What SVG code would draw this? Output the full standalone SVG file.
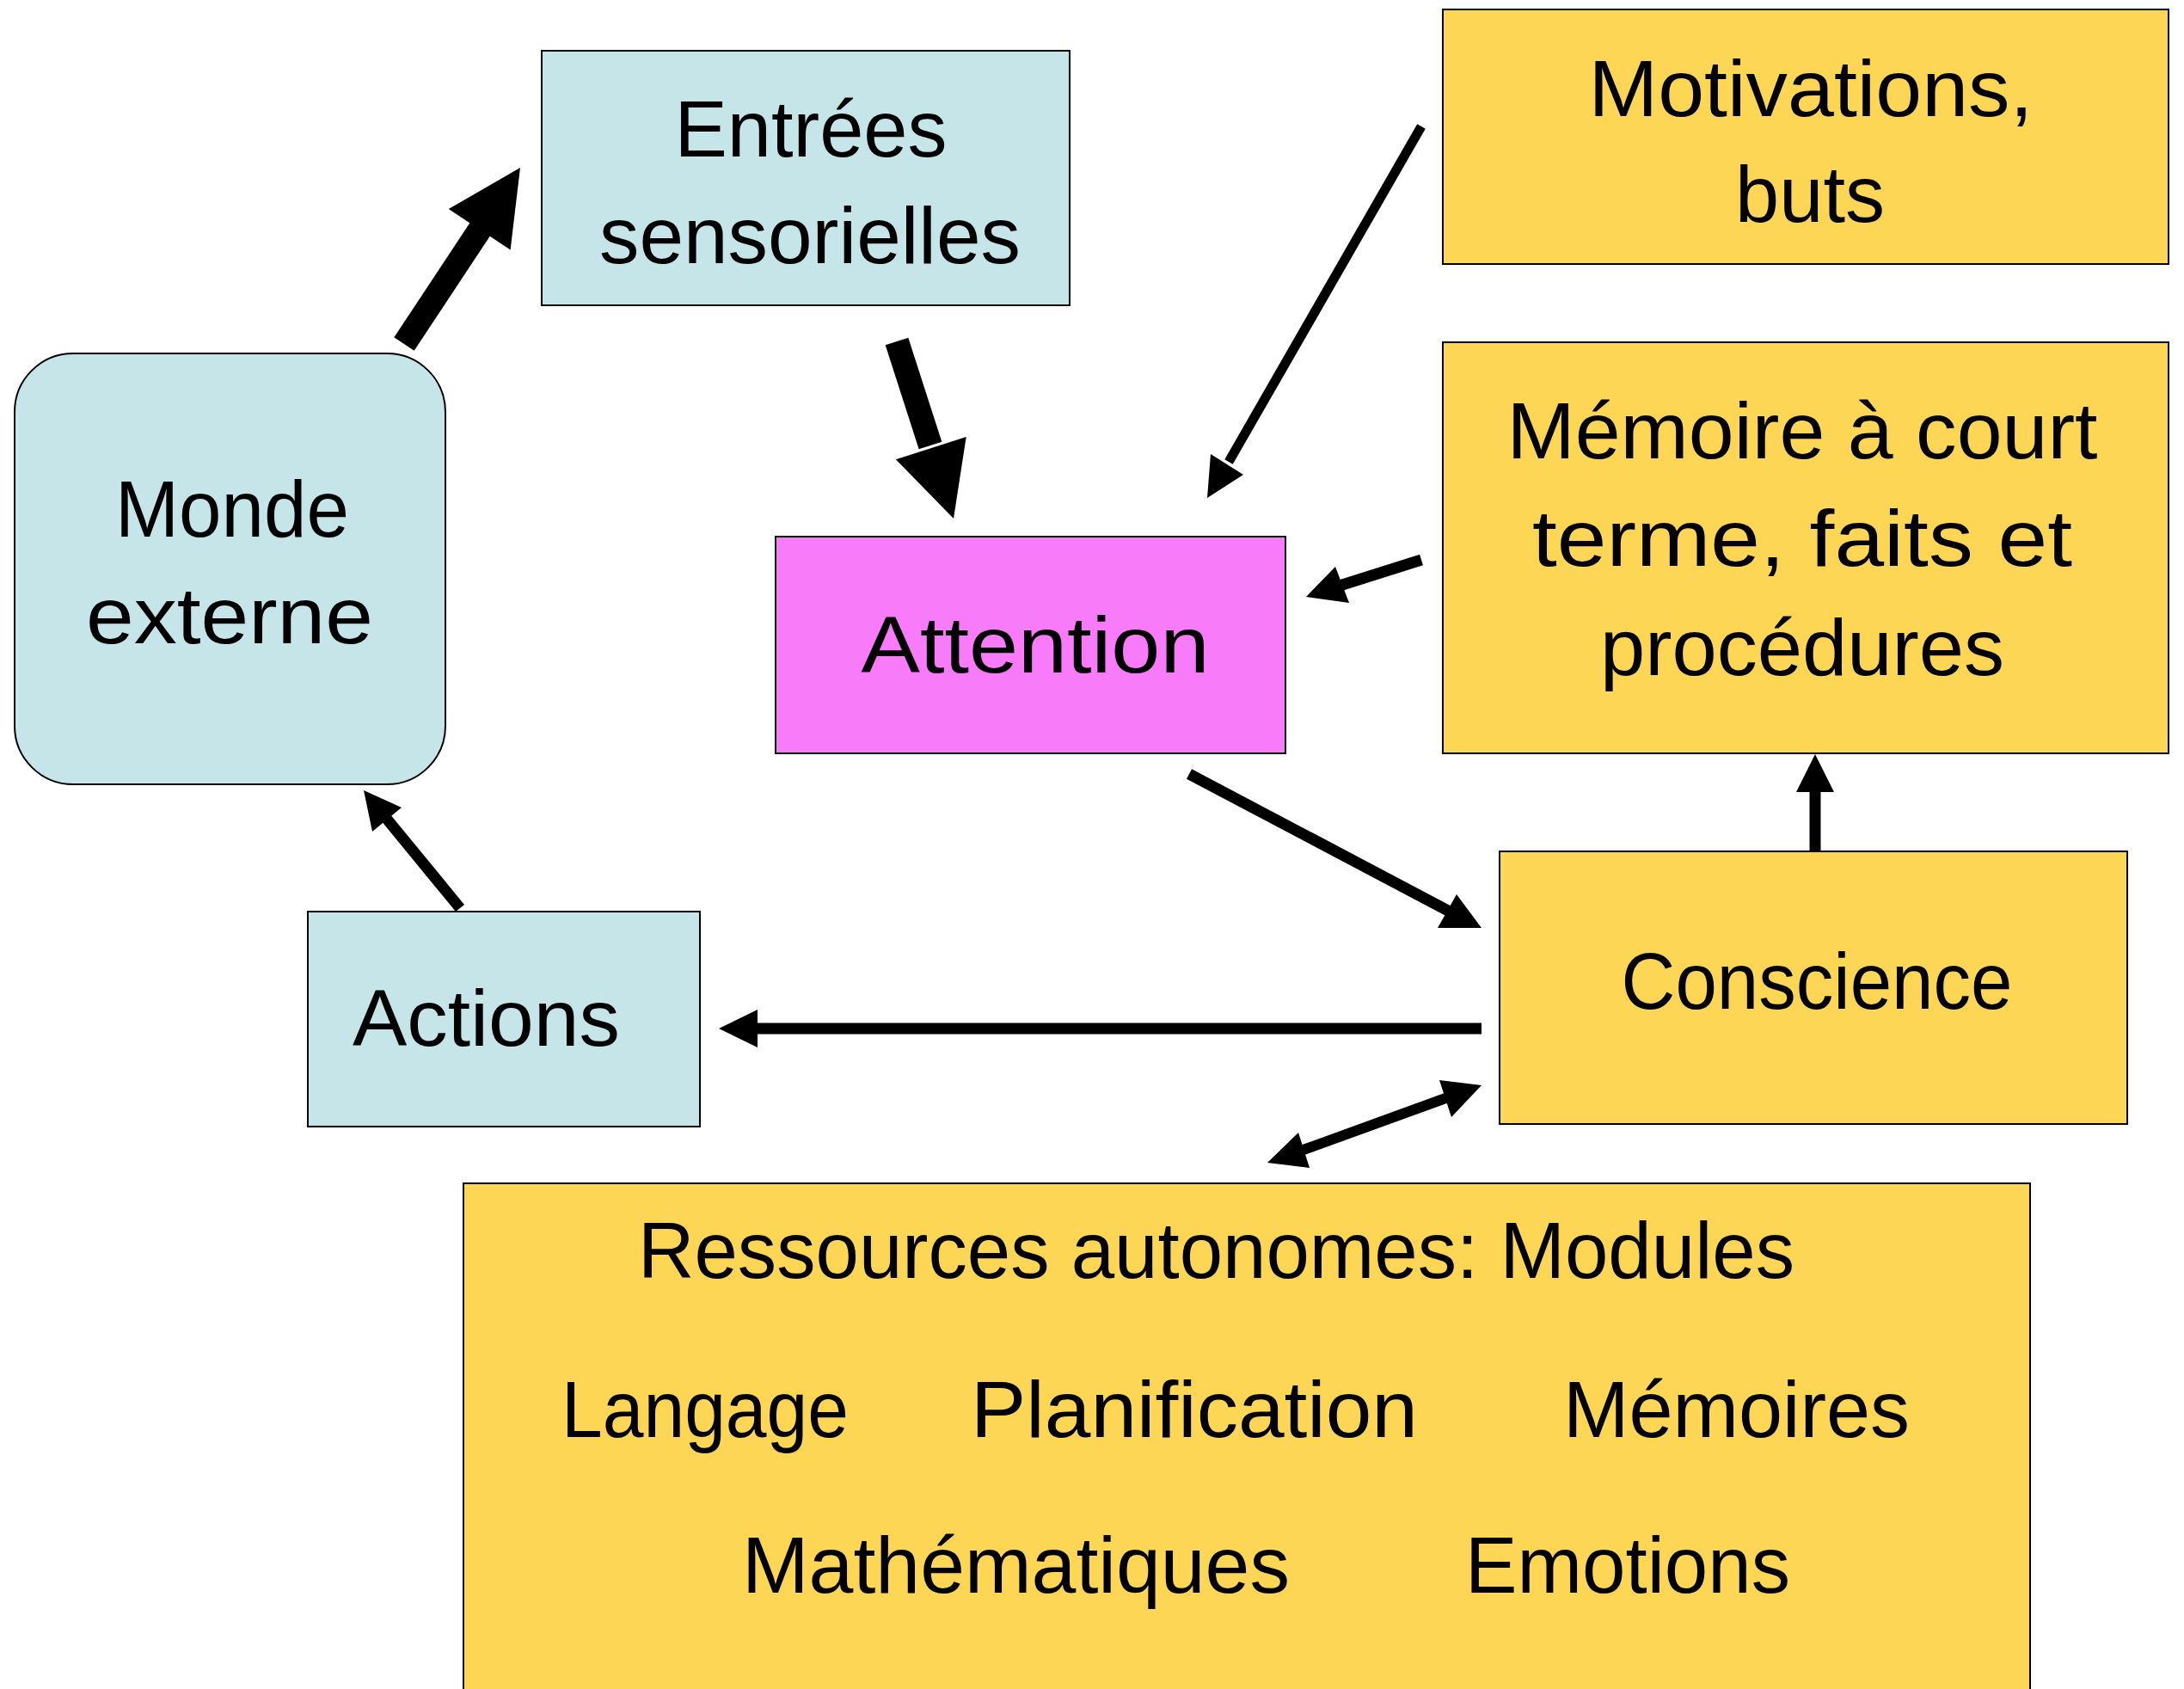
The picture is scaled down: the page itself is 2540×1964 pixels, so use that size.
<svg xmlns="http://www.w3.org/2000/svg" width="2540" height="1964" viewBox="0 0 2540 1964">
<style>
.box{stroke:#000;stroke-width:2}
.blue{fill:#C6E5E8}
.pink{fill:#F87BFA}
.yellow{fill:#FED656}
text{font-family:"Liberation Sans",Arial,sans-serif;font-size:92px;fill:#000}
.c{text-anchor:middle}
.s{text-anchor:start}
.shaft{stroke:#000;fill:none;stroke-linecap:butt}
.thick{stroke-width:28}
.thin{stroke-width:13}
.head{fill:#000}
</style>
<rect width="2540" height="1964" fill="#fff"/>
<g id="monde">
<rect class="box blue" x="17" y="411" width="501" height="501" rx="68" ry="68"/>
<text class="c" x="270" y="624" textLength="272" lengthAdjust="spacingAndGlyphs">Monde</text>
<text class="c" x="267" y="748" textLength="334" lengthAdjust="spacingAndGlyphs">externe</text>
</g>
<g id="entrees">
<rect class="box blue" x="630" y="59" width="614" height="296"/>
<text class="c" x="943" y="182">Entrées</text>
<text class="c" x="942" y="306" textLength="490" lengthAdjust="spacingAndGlyphs">sensorielles</text>
</g>
<g id="motivations">
<rect class="box yellow" x="1678" y="11" width="844" height="296"/>
<text class="c" x="2106" y="135" textLength="517" lengthAdjust="spacingAndGlyphs">Motivations,</text>
<text class="c" x="2105" y="258">buts</text>
</g>
<g id="memoire">
<rect class="box yellow" x="1678" y="398" width="844" height="478"/>
<text class="c" x="2096" y="533" textLength="687" lengthAdjust="spacingAndGlyphs">Mémoire à court</text>
<text class="c" x="2096" y="658" textLength="628" lengthAdjust="spacingAndGlyphs">terme, faits et</text>
<text class="c" x="2096" y="785" textLength="470" lengthAdjust="spacingAndGlyphs">procédures</text>
</g>
<g id="attention">
<rect class="box pink" x="902" y="624" width="593" height="252"/>
<text class="c" x="1204" y="782" textLength="405" lengthAdjust="spacingAndGlyphs">Attention</text>
</g>
<g id="conscience">
<rect class="box yellow" x="1744" y="990" width="730" height="317"/>
<text class="c" x="2113" y="1173" textLength="455" lengthAdjust="spacingAndGlyphs">Conscience</text>
</g>
<g id="actions">
<rect class="box blue" x="358" y="1060" width="456" height="250"/>
<text class="s" x="410" y="1216" textLength="311" lengthAdjust="spacingAndGlyphs">Actions</text>
</g>
<g id="ressources">
<rect class="box yellow" x="539" y="1376" width="1822" height="620"/>
<text class="s" x="742" y="1486" textLength="1345" lengthAdjust="spacingAndGlyphs">Ressources autonomes: Modules</text>
<text class="s" x="653" y="1671" textLength="334" lengthAdjust="spacingAndGlyphs">Langage</text>
<text class="s" x="1129" y="1671" textLength="520" lengthAdjust="spacingAndGlyphs">Planification</text>
<text class="s" x="1818" y="1671" textLength="403" lengthAdjust="spacingAndGlyphs">Mémoires</text>
<text class="s" x="863" y="1852" textLength="637" lengthAdjust="spacingAndGlyphs">Mathématiques</text>
<text class="s" x="1704" y="1852" textLength="378" lengthAdjust="spacingAndGlyphs">Emotions</text>
</g>
<g id="connectors">
<!-- Monde -> Entrées -->
<line class="shaft thick" x1="470" y1="400" x2="560" y2="264"/>
<polygon class="head" points="605,195 593.6,290.5 521.8,243.1"/>
<!-- Entrées -> Attention -->
<line class="shaft thick" x1="1043" y1="397" x2="1082" y2="518"/>
<polygon class="head" points="1109,603 1123.7,508 1041.9,534.2"/>
<!-- Motivations -> Attention -->
<line class="shaft" stroke-width="11" x1="1653" y1="147" x2="1429" y2="537"/>
<polygon class="head" points="1404,579 1408,528 1446,552"/>
<!-- Mémoire -> Attention -->
<line class="shaft thin" x1="1653" y1="651" x2="1558" y2="681"/>
<polygon class="head" points="1519,694 1553,659 1569,701"/>
<!-- Attention -> Conscience -->
<line class="shaft thin" x1="1383" y1="900" x2="1686" y2="1060"/>
<polygon class="head" points="1723,1079 1672,1079 1694,1040"/>
<!-- Conscience -> Mémoire -->
<line class="shaft thin" x1="2111" y1="990" x2="2111" y2="918"/>
<polygon class="head" points="2111,877 2133,921 2089,921"/>
<!-- Conscience -> Actions -->
<line class="shaft thin" x1="1723" y1="1196" x2="878" y2="1196"/>
<polygon class="head" points="836,1196 881,1174 881,1218"/>
<!-- Actions -> Monde -->
<line class="shaft thin" x1="535" y1="1056" x2="448" y2="950"/>
<polygon class="head" points="423,919 433,967 467,939"/>
<!-- Conscience <-> Ressources -->
<line class="shaft" stroke-width="12" x1="1684" y1="1276" x2="1513" y2="1338"/>
<polygon class="head" points="1723,1262 1674,1256 1688,1299"/>
<polygon class="head" points="1474,1352 1510,1317 1523,1358"/>
</g>
</svg>
